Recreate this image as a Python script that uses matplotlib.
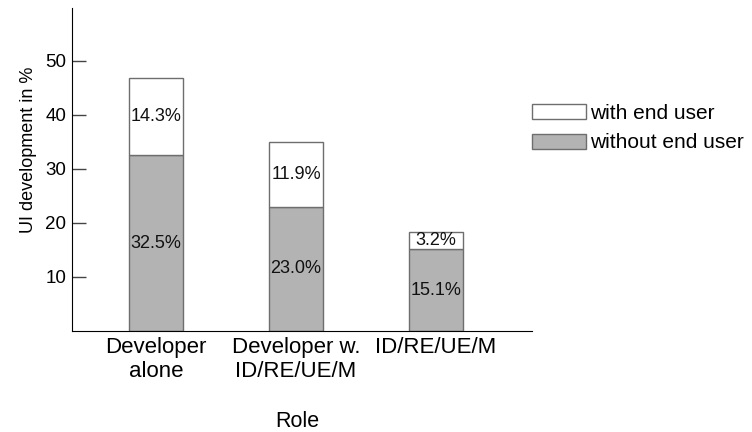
import matplotlib
matplotlib.use("Agg")
import matplotlib.pyplot as plt

roles = ["Developer\nalone", "Developer w.\nID/RE/UE/M", "ID/RE/UE/M"]
without_user = [32.5, 23.0, 15.1]
with_user = [14.3, 11.9, 3.2]
y_ticks = [10, 20, 30, 40, 50]

plt.rcParams['font.family'] = ['Liberation Sans', 'DejaVu Sans']

fig = plt.figure(figsize=(7.52, 4.32), dpi=100)
ax = fig.add_axes([72 / 752, 1 - 331 / 432, 460 / 752, 323 / 432])

x = list(range(len(roles)))
b1 = ax.bar(x, without_user, width=0.38, color="#b3b3b3", edgecolor="#6e6e6e",
            linewidth=1, label="without end user")
b2 = ax.bar(x, with_user, width=0.38, bottom=without_user, color="white",
            edgecolor="#6e6e6e", linewidth=1, label="with end user")

for i in x:
    ax.text(i, without_user[i] / 2, "%.1f%%" % without_user[i],
            ha="center", va="center", fontsize=13, color="#111111")
    ax.text(i, without_user[i] + with_user[i] / 2, "%.1f%%" % with_user[i],
            ha="center", va="center", fontsize=13, color="#111111")

ax.set_xlim(-0.6, 2.686)
ax.set_ylim(0, 59.8)
ax.set_yticks(y_ticks)
ax.set_xticks(x)
ax.set_xticklabels(roles, fontsize=16)
ax.tick_params(axis="y", direction="in", length=10, width=1, labelsize=13.5,
               pad=4, color="#444444")
ax.tick_params(axis="x", length=0, pad=4)
ax.spines["top"].set_visible(False)
ax.spines["right"].set_visible(False)
ax.set_xlabel("Role", fontsize=15.5, labelpad=21)
ax.xaxis.label.set_x(0.489)
ax.set_ylabel("UI development in %", fontsize=13, labelpad=6)
ax.yaxis.label.set_y(0.56)

fig.legend(handles=[b2, b1], loc="upper left", bbox_to_anchor=(532 / 752, 1 - 104 / 432),
           frameon=False, fontsize=15, borderpad=0, borderaxespad=0,
           handlelength=2.6, handleheight=0.72, handletextpad=0.2, labelspacing=0.5)

fig.savefig("out.png", dpi=100)
